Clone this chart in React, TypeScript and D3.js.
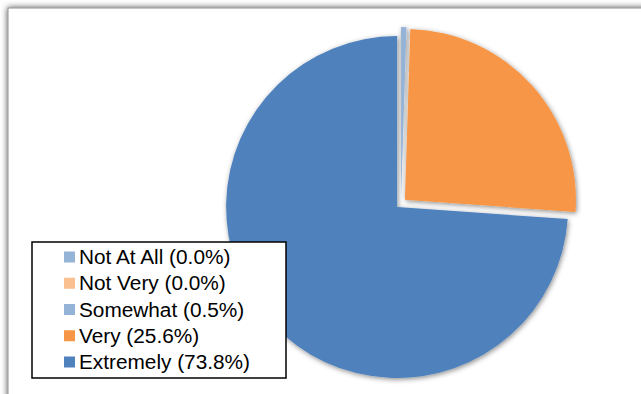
import React from "react";
import * as d3 from "d3";

const categories = ["Not At All", "Not Very", "Somewhat", "Very", "Extremely"];
const values = [0.0, 0.0, 0.5, 25.6, 73.8];
const colors = ["#95B3D7", "#FAC090", "#95B3D7", "#F79646", "#4F81BD"];

const W = 641;
const H = 394;

export default function App() {
  const cx = 401;
  const cy = 203.4;
  const r = 171;
  const explode = 5.3;

  const pie = d3
    .pie<number>()
    .sort(null)
    .value((d) => d)
    .startAngle(0)
    .endAngle(2 * Math.PI);
  const arcs = pie(values);
  const arcGen = d3.arc<d3.PieArcDatum<number>>().innerRadius(0).outerRadius(r);

  const legendX = 32;
  const legendY = 242;
  const legendW = 254;
  const legendH = 136;
  const rowY = d3.scaleLinear().domain([0, 4]).range([264, 369]);

  return (
    <svg
      width={W}
      height={H}
      style={{ position: "fixed", left: 0, top: 0, display: "block" }}
      fontFamily="'Liberation Sans', Arial, sans-serif"
    >
      <defs>
        <filter id="frameShadow" x="-10%" y="-10%" width="120%" height="120%">
          <feDropShadow dx="0" dy="0" stdDeviation="3.2" floodColor="#000" floodOpacity="0.7" />
        </filter>
        <filter id="sliceShadow" x="-20%" y="-20%" width="140%" height="140%">
          <feDropShadow dx="1" dy="1.5" stdDeviation="2.5" floodColor="#000" floodOpacity="0.45" />
        </filter>
      </defs>
      <rect x={0} y={0} width={W} height={H} fill="#ffffff" />
      <rect
        x={8}
        y={8}
        width={W + 20}
        height={H + 20}
        fill="#ffffff"
        stroke="#909090"
        strokeWidth={1}
        filter="url(#frameShadow)"
      />
      <g filter="url(#sliceShadow)">
        {arcs.map((a, i) => {
          if (a.endAngle - a.startAngle <= 0) return null;
          const mid = (a.startAngle + a.endAngle) / 2;
          const dx = Math.sin(mid) * explode;
          const dy = -Math.cos(mid) * explode;
          return (
            <path
              key={categories[i]}
              d={arcGen(a) || ""}
              transform={`translate(${cx + dx},${cy + dy})`}
              fill={colors[i]}
            />
          );
        })}
      </g>
      <rect
        x={legendX}
        y={legendY}
        width={legendW}
        height={legendH}
        fill="#ffffff"
        stroke="#000000"
        strokeWidth={1.5}
      />
      {categories.map((c, i) => {
        const y = rowY(i);
        return (
          <g key={c}>
            <rect x={64} y={y - 12.5} width={11} height={11} fill={colors[i]} />
            <text
              transform={`translate(79,${y}) scale(1.04,1)`}
              fontSize={20}
              fill="#000000"
            >
              {`${c} (${values[i].toFixed(1)}%)`}
            </text>
          </g>
        );
      })}
    </svg>
  );
}
